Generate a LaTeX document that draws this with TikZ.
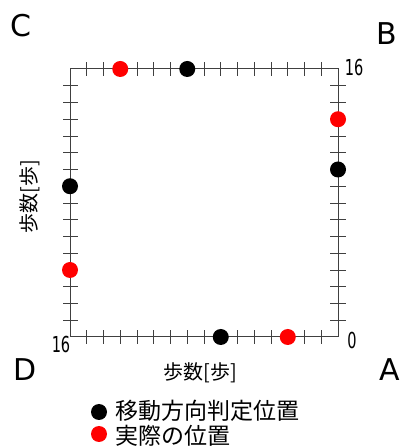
\documentclass[tikz,border=0pt]{standalone}
\usepackage{fontspec}
\usetikzlibrary{calc}
\setmainfont{DejaVu Sans}
\newfontfamily\jp{Noto Sans CJK JP}
\begin{document}
\begin{tikzpicture}[x=1pt,y=1pt,
  frame/.style={draw=black!75, line width=1pt},
  tick/.style={draw=black!75, line width=0.9pt},
  bdot/.style={circle, fill=black, minimum size=16pt, inner sep=0pt},
  rdot/.style={circle, fill=red, minimum size=16pt, inner sep=0pt},
  corner/.style={font=\fontsize{30}{30}\selectfont, inner sep=0pt},
  num/.style={font=\fontsize{22}{22}\selectfont, inner sep=0pt, xscale=0.66},
  axlab/.style={font=\jp\fontsize{20}{20}\selectfont, inner sep=0pt},
  leg/.style={font=\jp\fontsize{23}{23}\selectfont, inner sep=0pt, anchor=west}]
\useasboundingbox (0,0) rectangle (401,446);
\def\st{16.75}
% corners of the square
\coordinate (pC) at (70,377);
\coordinate (pB) at (338,377);
\coordinate (pA) at (338,109);
\coordinate (pD) at (70,109);
\draw[frame] (pC) -- (pB) -- (pA) -- (pD) -- cycle;
% ticks
\foreach \k in {1,...,15}{
  \draw[tick] ($(pC)+(\k*\st,-7)$) -- ($(pC)+(\k*\st,7)$);
  \draw[tick] ($(pD)+(\k*\st,-7)$) -- ($(pD)+(\k*\st,7)$);
  \draw[tick] ($(pC)+(-7,-\k*\st)$) -- ($(pC)+(8,-\k*\st)$);
  \draw[tick] ($(pB)+(-8,-\k*\st)$) -- ($(pB)+(8,-\k*\st)$);
}
% positions
\node[rdot] (t1) at ($(pC)+(3*\st,0)$) {};
\node[bdot] (t2) at ($(pC)+(7*\st,0)$) {};
\node[rdot] (r1) at ($(pB)+(0,-3*\st)$) {};
\node[bdot] (r2) at ($(pB)+(0,-6*\st)$) {};
\node[rdot] (b1) at ($(pA)+(-3*\st,0)$) {};
\node[bdot] (b2) at ($(pA)+(-7*\st,0)$) {};
\node[bdot] (l1) at ($(pC)+(0,-7*\st)$) {};
\node[rdot] (l2) at ($(pC)+(0,-12*\st)$) {};
% corner letters
\node[corner] (lC) at (21,420) {C};
\node[corner] (lB) at (387,412) {B};
\node[corner] (lA) at (390,76) {A};
\node[corner] (lD) at (25,76) {D};
% numbers
\node[num] (n16a) at (354,379) {16};
\node[num] (n0) at (352,106) {0};
\node[num] (n16b) at (61,102) {16};
% axis labels
\node[axlab] (xlab) at (200,73) {歩数[歩]};
\node[axlab, rotate=90] (ylab) at (30,249) {歩数[歩]};
% legend
\node[bdot] (lgb) at (99,34) {};
\node[rdot] (lgr) at (99,12) {};
\node[leg] (lgbt) at (115,35) {移動方向判定位置};
\node[leg] (lgrt) at (115,10) {実際の位置};
\end{tikzpicture}
\end{document}
